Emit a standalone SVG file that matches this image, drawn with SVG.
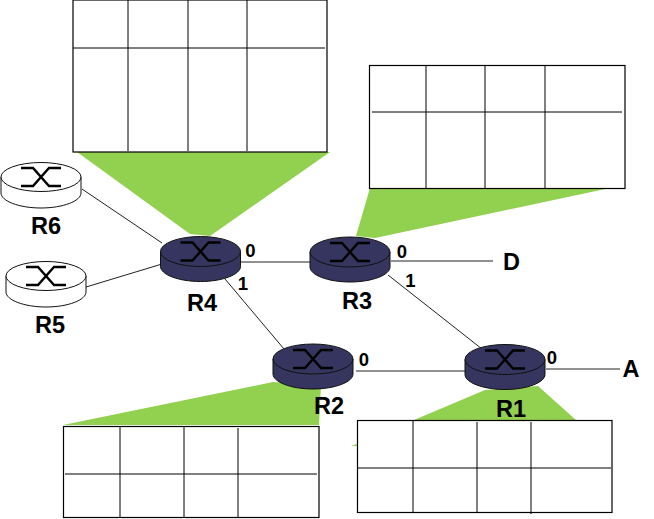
<svg xmlns="http://www.w3.org/2000/svg" width="654" height="519" viewBox="0 0 654 519">
<style>
text{font-family:"Liberation Sans",Arial,sans-serif;font-weight:bold;fill:#000}
.lbl{font-size:23.500px;text-anchor:middle}
.port{font-size:18.500px;text-anchor:middle}
.wedge{fill:#92d050;stroke:none}
.tb{fill:#fff;stroke:#000;stroke-width:1.2}
.gl{stroke:#000;stroke-width:1;fill:none}
.link{stroke:#222;stroke-width:1;fill:none}
.dark{fill:#35355f;stroke:#111;stroke-width:1}
.light{fill:#fff;stroke:#111;stroke-width:1}
.sym{fill:none;stroke:#000;stroke-width:2.400}
</style>
<defs>
<g id="sym"><path class="sym" d="M-20,-9H-8L8,9H20M-20,9H-8L8,-9H20"/></g>
<g id="rd"><path class="dark" d="M-40,0V15C-40,23-22,30,0,30S40,23,40,15V0Z"/><ellipse class="dark" cx="0" cy="0" rx="40" ry="15"/><use href="#sym"/></g>
<g id="rl"><path class="light" d="M-40,0V16C-40,24-22,31,0,31S40,24,40,16V0Z"/><ellipse class="light" cx="0" cy="0" rx="40" ry="14.5"/><use href="#sym"/></g>
</defs>

<g id="wedges">
<polygon class="wedge" points="77,152 330,152 210,236 190,234"/>
<polygon class="wedge" points="370,188 610,188 375,238 356,236"/>
<polygon class="wedge" points="63,425 319,425 321,385 273,382"/>
<polygon class="wedge" points="414,420 576,420 538,386 485,390"/>
<polygon class="wedge" points="351,446 357,444 357,446"/>
</g>

<g id="connectors">
<line class="link" x1="82" y1="189" x2="162" y2="243"/>
<line class="link" x1="86" y1="287" x2="162" y2="264"/>
<line class="link" x1="240" y1="262" x2="310" y2="262"/>
<line class="link" x1="225" y1="279" x2="284" y2="349"/>
<line class="link" x1="388" y1="275" x2="482" y2="349"/>
<line class="link" x1="391" y1="261" x2="493" y2="261"/>
<line class="link" x1="356" y1="371" x2="465" y2="371"/>
<line class="link" x1="546" y1="369" x2="620" y2="369"/>
</g>

<g id="table-r4">
<rect class="tb" x="73" y="0" width="254" height="152"/>
<path class="gl" d="M73,48H325M128,0V151M188,0V151M247,0V151"/>
</g>
<g id="table-r3">
<rect class="tb" x="369.500" y="65.500" width="255.500" height="123"/>
<path class="gl" d="M372,112H622M426,65V188M485,65V189M545,65V189"/>
</g>
<g id="table-r2">
<rect class="tb" x="63.500" y="426.500" width="255.500" height="91"/>
<path class="gl" d="M65,474H317M120,427V517M184,427V518M238,428V518"/>
</g>
<g id="table-r1">
<rect class="tb" x="357.500" y="420.500" width="254.500" height="92"/>
<path class="gl" d="M358,468H611M413,421V512M477,422V512M531,422V514"/>
</g>

<g id="R6"><use href="#rl" x="41" y="177"/><text class="lbl" x="46" y="234">R6</text></g>
<g id="R5"><use href="#rl" x="46" y="276"/><text class="lbl" x="50" y="333">R5</text></g>
<g id="R4"><use href="#rd" x="200.500" y="251.500"/><text class="lbl" x="202" y="311">R4</text><text class="port" x="250.500" y="256.500">0</text><text class="port" x="243" y="290">1</text></g>
<g id="R3"><use href="#rd" x="350" y="252"/><text class="lbl" x="357" y="309">R3</text><text class="port" x="402" y="257.500">0</text><text class="port" x="410.500" y="286.500">1</text></g>
<g id="R2"><use href="#rd" x="313" y="359"/><text class="lbl" x="329" y="414">R2</text><text class="port" x="364" y="365.500">0</text></g>
<g id="R1"><use href="#rd" x="505" y="359.500"/><text class="lbl" x="511" y="416.500">R1</text><text class="port" x="552" y="363.500">0</text></g>
<text class="lbl" x="511.500" y="270">D</text>
<text class="lbl" x="631" y="377">A</text>
</svg>
